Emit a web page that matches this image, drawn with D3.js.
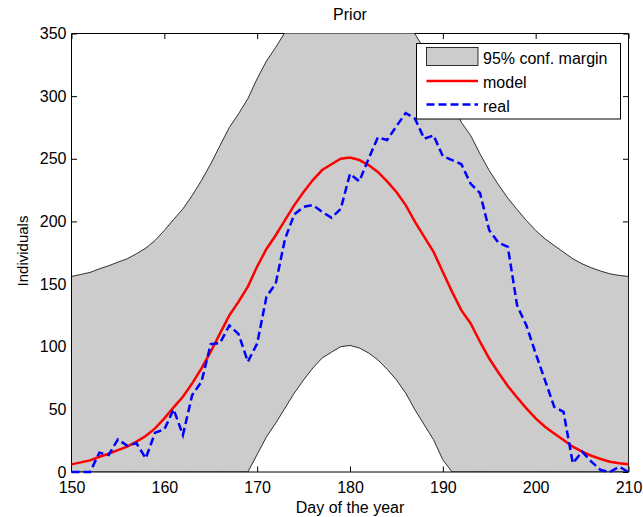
<!DOCTYPE html>
<head>
  <title>Prior</title>
  <script src="https://d3js.org/d3.v7.min.js"></script>
  <style>
  body {margin: 0; background: white;}
  #chart {background-color: white;}
  text {font-family: "Liberation Sans", Arial, sans-serif; font-size: 16px; fill: #000;}
  .band {fill: #cccccc; stroke: #000; stroke-width: 0.8px;}
  .model {fill: none; stroke: #ff0000; stroke-width: 2.5px;}
  .real {fill: none; stroke: #0000ff; stroke-width: 2.5px; stroke-dasharray: 8,4;}
  .frame {stroke: #000; stroke-width: 1px; fill: none;}
  </style>
</head>
<body>
  <svg id="chart" height="517" width="643"></svg>
  <script>
  // day of the year (x categories)
  var days = d3.range(150, 211);

  // model curve
  var model = [6.1, 7.7, 9.3, 12.2, 14.6, 17.5, 20.2, 24.2, 28.7, 34.8,
    42.8, 51.6, 60, 70.7, 82.7, 96, 110.6, 125, 136, 148,
    164, 178, 189, 201, 213, 223.5, 233, 241, 245.6, 250,
    251, 249, 245, 239.5, 232, 223.5, 213, 199.6, 187.6, 175.7,
    159.7, 143.8, 129, 118.6, 104, 90.6, 79.2, 68.6, 59.5, 50.8,
    42.8, 36.1, 30.8, 25.5, 20.2, 16.2, 13, 10.4, 8.2, 6.9,
    6.1];

  // observed counts
  var real = [0, 0, 0, 15.4, 13.6, 26, 21, 22.9, 10.9, 31.4,
    34, 50, 29.5, 61.4, 72, 102, 103, 117, 110, 88,
    102.6, 139.8, 150.5, 186, 205.7, 211.6, 213, 207.6, 203, 210,
    238, 232, 250, 267, 265, 276, 286.5, 282, 266, 268.7,
    252, 249, 245.6, 230, 222.7, 193, 183, 179.7, 133, 117,
    94.6, 73.4, 52, 48, 7, 16.2, 8.2, 1.6, 0, 4.2,
    0];

  var margin95 = 150; // half width of the 95% band
  var xTicks = [150, 160, 170, 180, 190, 200, 210];
  var yTicks = [0, 50, 100, 150, 200, 250, 300, 350];

  var svg = d3.select("#chart");
  var plotL = 71.5, plotR = 628.5, plotT = 33.5, plotB = 472;
  var tickLen = 5.5;

  var x = d3.scaleLinear().domain([150, 210]).range([plotL, plotR]);
  var y = d3.scaleLinear().domain([0, 350]).range([plotB, plotT]);

  var rows = days.map(function(d, i) {
    return {day: d, model: model[i], real: real[i]};
  });

  svg.append("defs").append("clipPath").attr("id", "plotClip")
    .append("rect")
    .attr("x", plotL).attr("y", plotT)
    .attr("width", plotR - plotL).attr("height", plotB - plotT);

  // axes first, the band hides ticks and the top/right border
  function cleanAxis(g) {
    g.select(".domain").remove();
    g.selectAll(".tick line").attr("stroke", "#000");
    g.selectAll(".tick text").attr("fill", "#000").style("font-size", "16px")
      .attr("font-family", null);
  }

  svg.append("g").attr("transform", "translate(0," + plotB + ")")
    .call(d3.axisBottom(x).tickValues(xTicks).tickSize(-tickLen).tickPadding(9.5))
    .call(cleanAxis);
  svg.append("g").attr("transform", "translate(0," + plotT + ")")
    .call(d3.axisTop(x).tickValues(xTicks).tickSize(-tickLen).tickFormat(""))
    .call(cleanAxis);
  svg.append("g").attr("transform", "translate(" + plotL + ",0)")
    .call(d3.axisLeft(y).tickValues(yTicks).tickSize(-tickLen).tickPadding(5))
    .call(cleanAxis);
  svg.append("g").attr("transform", "translate(" + plotR + ",0)")
    .call(d3.axisRight(y).tickValues(yTicks).tickSize(-tickLen).tickFormat(""))
    .call(cleanAxis);

  svg.append("path").attr("class", "frame")
    .attr("d", "M" + plotL + "," + plotT + "H" + plotR + "V" + plotB);

  // 95% band
  var band = d3.area()
    .x(function(d) { return x(d.day); })
    .y0(function(d) { return y(Math.max(0, d.model - margin95)); })
    .y1(function(d) { return y(d.model + margin95); });

  var plot = svg.append("g").attr("clip-path", "url(#plotClip)");
  plot.append("path").datum(rows).attr("class", "band").attr("d", band);

  // left and bottom border stay on top
  svg.append("path").attr("class", "frame")
    .attr("d", "M" + plotL + "," + plotT + "V" + plotB + "H" + plotR);

  var modelLine = d3.line()
    .x(function(d) { return x(d.day); })
    .y(function(d) { return y(d.model); });
  var realLine = d3.line()
    .x(function(d) { return x(d.day); })
    .y(function(d) { return y(d.real); });

  svg.append("path").datum(rows).attr("class", "model").attr("d", modelLine);
  svg.append("path").datum(rows).attr("class", "real").attr("d", realLine);

  // labels
  svg.append("text").attr("x", 350).attr("y", 20)
    .attr("text-anchor", "middle").text("Prior");
  svg.append("text").attr("x", 350).attr("y", 513)
    .attr("text-anchor", "middle").text("Day of the year");
  svg.append("text").attr("transform", "translate(28,251) rotate(-90)")
    .attr("text-anchor", "middle").style("font-size", "15px").text("Individuals");

  // legend
  var legend = svg.append("g");
  legend.append("rect")
    .attr("x", 416.5).attr("y", 43.5).attr("width", 204).attr("height", 75.5)
    .attr("fill", "white").attr("stroke", "#000").attr("stroke-width", 1);
  legend.append("rect")
    .attr("x", 426.5).attr("y", 47.5).attr("width", 51.5).attr("height", 18)
    .attr("fill", "#cccccc").attr("stroke", "#000").attr("stroke-width", 0.8);
  legend.append("line").attr("class", "model")
    .attr("x1", 426.5).attr("x2", 478).attr("y1", 81).attr("y2", 81);
  legend.append("line").attr("class", "real")
    .attr("x1", 426.5).attr("x2", 478).attr("y1", 104.5).attr("y2", 104.5);
  var labels = ["95% conf. margin", "model", "real"];
  legend.selectAll("text.leg").data(labels).enter().append("text")
    .attr("class", "leg")
    .attr("x", 483)
    .attr("y", function(d, i) { return 64 + i * 24; })
    .text(function(d) { return d; });
  </script>
</body>
